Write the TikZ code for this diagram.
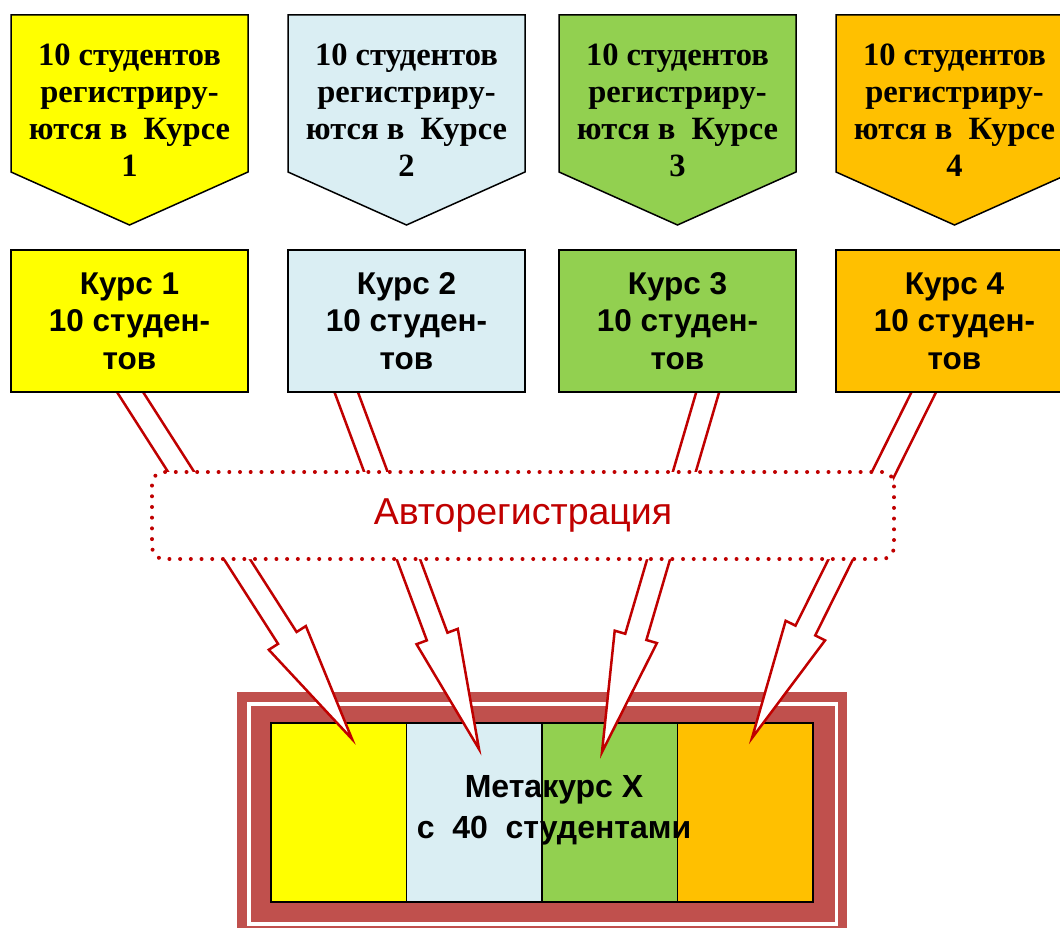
\documentclass[tikz,border=0pt]{standalone}
\usepackage{fontspec}
\setmainfont{Liberation Serif}
\setsansfont{Liberation Sans}
\usetikzlibrary{calc,positioning}
\definecolor{kursYellow}{HTML}{FFFF00}
\definecolor{kursBlue}{HTML}{DAEEF3}
\definecolor{kursGreen}{HTML}{92D050}
\definecolor{kursOrange}{HTML}{FFC000}
\definecolor{regRed}{HTML}{C00000}
\definecolor{frameRed}{HTML}{C0504D}
\pgfdeclarelayer{back}
\pgfdeclarelayer{arrlayer}
\pgfsetlayers{back,arrlayer,main}
\tikzset{
  regtext/.style={
    align=center, text=black,
    font=\rmfamily\bfseries\fontsize{32.5}{37}\selectfont
  },
  kursbox/.style={
    rectangle, draw=black, line width=1.5pt, fill=#1,
    minimum width=237pt, minimum height=142pt,
    align=center, font=\sffamily\bfseries\fontsize{31.5}{37.5}\selectfont
  },
  cellbox/.style={
    rectangle, draw=black, line width=1.5pt, fill=#1,
    minimum width=135.5pt, minimum height=179pt
  },
  autobox/.style={
    rectangle, rounded corners=12pt,
    draw=regRed, fill=white, line width=4pt,
    dash pattern=on 0pt off 10.7pt, line cap=round,
    minimum width=742pt, minimum height=87pt,
    text=regRed, font=\sffamily\fontsize{37.5}{40}\selectfont
  },
  metatext/.style={
    align=center, text=black,
    font=\sffamily\bfseries\fontsize{32}{41}\selectfont
  },
  hollowarr/.style={draw=regRed, fill=white, line width=2.5pt, line join=miter},
}
% hollow block arrow: tail -> tip
\newcommand\hollowarrow[2]{%
  \coordinate (hb) at ($(#2)!120pt!(#1)$);
  \filldraw[hollowarr] ($(#1)!11pt!90:(#2)$) -- ($(hb)!11pt!90:(#2)$)
    -- ($(hb)!22pt!90:(#2)$) -- (#2) -- ($(hb)!22pt!-90:(#2)$)
    -- ($(hb)!11pt!-90:(#2)$) -- ($(#1)!11pt!-90:(#2)$) -- cycle;
}
\begin{document}
\begin{tikzpicture}[x=1pt, y=-1pt]
  \useasboundingbox (0,0) rectangle (1060,928);

  % metacourse
  \begin{pgfonlayer}{back}
    \fill[frameRed] (237,692) rectangle (847,940);
    \draw[white, line width=3.5pt] (249,704) rectangle (836.5,924);
    \foreach \n/\c in {1/kursYellow, 2/kursBlue, 3/kursGreen, 4/kursOrange}
      \node[cellbox=\c] (cell\n) at (271+135.5*\n-67.75, 812.5) {};
  \end{pgfonlayer}
  \node[metatext] (metatxt) at (554,810) {Метакурс Х\\с\ \ 40\ \ студентами};

  % courses
  \foreach \x/\c/\n in {11/kursYellow/1, 288/kursBlue/2, 559/kursGreen/3, 836/kursOrange/4} {
    \filldraw[fill=\c, draw=black, line width=1.5pt]
      (\x,15) -- ++(237,0) -- ++(0,157) -- ++(-118.5,53) -- ++(-118.5,-53) -- cycle;
    \node[regtext] (reg\n) at (\x+118.5,110) {10 студентов\\регистриру-\\ются в\ \ Курсе\\\n};
    \node[kursbox=\c] (kurs\n) at (\x+118.5,321) {Курс \n\\10 студен-\\тов};
  }

  % arrows
  \begin{pgfonlayer}{arrlayer}
    \foreach \n/\dx/\tx/\ty in {1/-11.8/13.25/-73.5, 2/-67.5/4.75/-63.5,
                                3/35.9/-7.75/-60.5, 4/-21.1/6.75/-74.5} {
      \coordinate (tail\n) at ($(kurs\n.south)+(\dx,-20)$);
      \coordinate (tip\n) at ($(cell\n)+(\tx,\ty)$);
      \hollowarrow{tail\n}{tip\n}
    }
  \end{pgfonlayer}

  \node[autobox] (autoreg) at (523,515.5) {Авторегистрация};
\end{tikzpicture}
\end{document}
